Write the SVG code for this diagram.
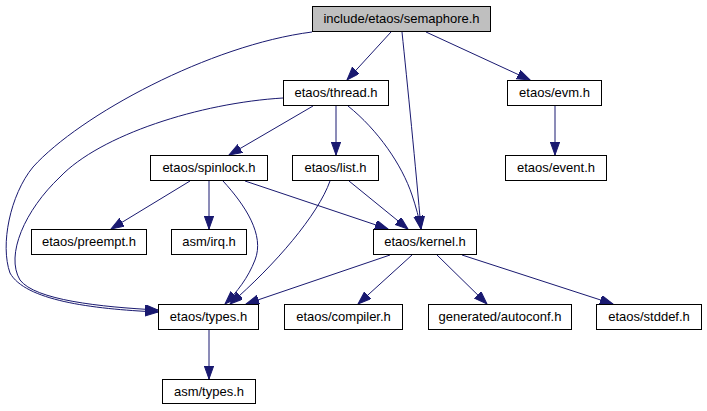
<svg xmlns="http://www.w3.org/2000/svg" width="707" height="411" viewBox="0 0 707 411">
<style>
.n rect{fill:#ffffff;stroke:#000000;stroke-width:1}
.n.root rect{fill:#bfbfbf}
.n text{font-family:"Liberation Sans",Arial,sans-serif;font-size:13px;fill:#000000;text-anchor:middle}
.e path{fill:none;stroke:#191970;stroke-width:1;marker-end:url(#ah)}
</style>
<defs>
<marker id="ah" markerUnits="userSpaceOnUse" markerWidth="14" markerHeight="10" refX="13" refY="4.67" orient="auto">
<path d="M0,0 L13,4.67 L0,9.33 z" fill="#191970" stroke="#191970" stroke-width="1"/>
</marker>
</defs>
<rect width="707" height="411" fill="#ffffff"/>
<g id="edges" class="e">
<path d="M391,32 L347,80"/>
<path d="M402,32 C407,80 416,170 421,229"/>
<path d="M426,32 L530,80"/>
<path d="M312,32 C210,45 80,115 33,167 C10,195 0,245 10,273 C25,300 90,309 158,312"/>
<path d="M283,98 C200,103 100,135 60,177 C25,210 5,255 20,280 C35,300 100,307 158,310"/>
<path d="M313,106 L229,155"/>
<path d="M336,106 L336,155"/>
<path d="M348,106 C378,130 402,165 412,195 C416,207 419,218 421,229"/>
<path d="M190,181 L111,229"/>
<path d="M209,181 L209,229"/>
<path d="M223,181 C245,205 265,235 255,260 C248,278 237,292 225,304"/>
<path d="M330,181 C318,215 275,265 230,304"/>
<path d="M245,181 L388,229"/>
<path d="M349,181 L408,229"/>
<path d="M390,255 L246,304"/>
<path d="M412,255 L358,304"/>
<path d="M437,255 L487,304"/>
<path d="M462,255 L613,304"/>
<path d="M555,106 L555,155"/>
<path d="M209,330 L209,379"/>
</g>
<g id="semaphore" class="n root"><rect x="312.5" y="6.5" width="178" height="25"/><text x="401.5" y="23">include/etaos/semaphore.h</text></g>
<g id="thread" class="n"><rect x="283.5" y="80.5" width="105" height="25"/><text x="336" y="97">etaos/thread.h</text></g>
<g id="evm" class="n"><rect x="507.5" y="80.5" width="94" height="25"/><text x="554.5" y="97">etaos/evm.h</text></g>
<g id="spinlock" class="n"><rect x="150.5" y="155.5" width="117" height="25"/><text x="209" y="172">etaos/spinlock.h</text></g>
<g id="list" class="n"><rect x="292.5" y="155.5" width="86" height="25"/><text x="335.5" y="172">etaos/list.h</text></g>
<g id="event" class="n"><rect x="505.5" y="155.5" width="101" height="25"/><text x="556" y="172">etaos/event.h</text></g>
<g id="preempt" class="n"><rect x="31.5" y="229.5" width="115" height="25"/><text x="89" y="246">etaos/preempt.h</text></g>
<g id="irq" class="n"><rect x="171.5" y="229.5" width="75" height="25"/><text x="209" y="246">asm/irq.h</text></g>
<g id="kernel" class="n"><rect x="373.5" y="229.5" width="103" height="25"/><text x="425" y="246">etaos/kernel.h</text></g>
<g id="types" class="n"><rect x="158.5" y="304.5" width="100" height="25"/><text x="208.5" y="321">etaos/types.h</text></g>
<g id="compiler" class="n"><rect x="284.5" y="304.5" width="118" height="25"/><text x="343.5" y="321">etaos/compiler.h</text></g>
<g id="autoconf" class="n"><rect x="428.5" y="304.5" width="143" height="25"/><text x="500" y="321">generated/autoconf.h</text></g>
<g id="stddef" class="n"><rect x="596.5" y="304.5" width="105" height="25"/><text x="649" y="321">etaos/stddef.h</text></g>
<g id="asmtypes" class="n"><rect x="162.5" y="379.5" width="93" height="24"/><text x="209" y="396">asm/types.h</text></g>
</svg>
